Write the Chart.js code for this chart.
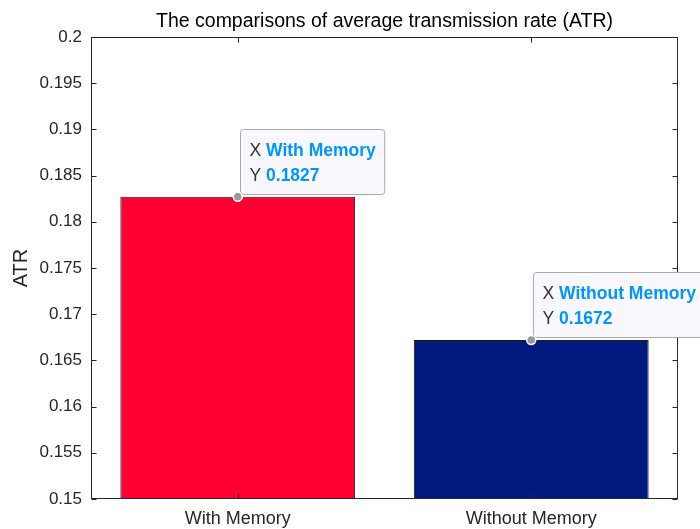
<!DOCTYPE html>
<html>
<head>
<meta charset="utf-8">
<script src="https://cdn.jsdelivr.net/npm/chart.js@4.4.1/dist/chart.umd.min.js"></script>
<style>
  html, body { margin: 0; padding: 0; background: #fff; }
  #wrap { width: 700px; height: 529px; }
</style>
</head>
<body>
<div id="wrap"><canvas id="atrChart" width="700" height="529"></canvas></div>
<script>
// datos del grafico
const categories = ['With Memory', 'Without Memory'];
const atrValues = [0.1827, 0.1672];
const barColors = ['#FF0033', '#001A80'];
const yTickValues = [0.15, 0.155, 0.16, 0.165, 0.17, 0.175, 0.18, 0.185, 0.19, 0.195, 0.2];
const chartTitle = 'The comparisons of average transmission rate (ATR)';

const FONT = '"Liberation Sans", Arial, Helvetica, sans-serif';
const AXIS_COLOR = '#262626';

// caja, marcas de ejes y titulo al estilo MATLAB
const boxPlugin = {
  id: 'boxPlugin',
  afterDraw(chart) {
    const { ctx, chartArea: a, scales } = chart;
    const L = Math.round(a.left) + 0.5, R = Math.round(a.right) - 0.5;
    const T = Math.round(a.top) + 0.5, B = Math.round(a.bottom) - 0.5;
    ctx.save();
    ctx.strokeStyle = AXIS_COLOR;
    ctx.lineWidth = 1;
    ctx.strokeRect(L, T, R - L, B - T);
    ctx.beginPath();
    yTickValues.forEach(v => {
      const y = Math.round(scales.y.getPixelForValue(v)) + 0.5;
      ctx.moveTo(L, y); ctx.lineTo(L + 5, y);
      ctx.moveTo(R, y); ctx.lineTo(R - 5, y);
    });
    categories.forEach((c, i) => {
      const x = Math.round(scales.x.getPixelForValue(i)) + 0.5;
      ctx.moveTo(x, B); ctx.lineTo(x, B - 5);
      ctx.moveTo(x, T); ctx.lineTo(x, T + 5);
    });
    ctx.stroke();
    ctx.fillStyle = '#000';
    ctx.font = '19.5px ' + FONT;
    ctx.textAlign = 'center';
    ctx.textBaseline = 'middle';
    ctx.fillText(chartTitle, (a.left + a.right) / 2, 22);
    ctx.restore();
  }
};

// cuadros de "data tip"
const dataTipPlugin = {
  id: 'dataTipPlugin',
  afterDraw(chart) {
    const { ctx } = chart;
    const meta = chart.getDatasetMeta(0);
    ctx.save();
    meta.data.forEach((bar, i) => {
      const px = bar.x, py = bar.y;
      const bx = Math.round(px) + 2.5, by = Math.round(py) - 67.5;
      ctx.font = 'bold 17.5px ' + FONT;
      const w1 = ctx.measureText(categories[i]).width;
      const w2 = ctx.measureText(atrValues[i].toFixed(4)).width;
      ctx.font = '17.5px ' + FONT;
      const wX = ctx.measureText('X ').width, wY = ctx.measureText('Y ').width;
      const bw = 9 + wX + Math.max(w1, w2) + 9, bh = 65;
      ctx.beginPath();
      ctx.roundRect(bx, by, bw, bh, 3);
      ctx.fillStyle = '#F8F8FD';
      ctx.fill();
      ctx.strokeStyle = '#A8A8A8';
      ctx.lineWidth = 1;
      ctx.stroke();
      ctx.textBaseline = 'middle';
      ctx.textAlign = 'left';
      ctx.fillStyle = '#333';
      ctx.fillText('X', bx + 9, by + 22);
      ctx.fillText('Y', bx + 9, by + 47);
      ctx.font = 'bold 17.5px ' + FONT;
      ctx.fillStyle = '#0096FF';
      ctx.fillText(categories[i], bx + 9 + wX, by + 22);
      ctx.fillText(atrValues[i].toFixed(4), bx + 9 + wY, by + 47);
      // punto
      ctx.beginPath();
      ctx.arc(px, py, 4.5, 0, Math.PI * 2);
      ctx.fillStyle = '#9A9A9A';
      ctx.fill();
      ctx.strokeStyle = '#fff';
      ctx.lineWidth = 1.5;
      ctx.stroke();
    });
    ctx.restore();
  }
};

const ctx = document.getElementById('atrChart').getContext('2d');
new Chart(ctx, {
  type: 'bar',
  data: {
    labels: categories,
    datasets: [{
      data: atrValues,
      backgroundColor: barColors,
      borderColor: '#1a1a1a',
      borderWidth: 1,
      borderSkipped: false,
      categoryPercentage: 0.8,
      barPercentage: 1.0
    }]
  },
  options: {
    responsive: false,
    animation: false,
    devicePixelRatio: 1,
    layout: { padding: { left: 0, right: 22, top: 37, bottom: 0 } },
    plugins: {
      legend: { display: false },
      tooltip: { enabled: false },
      title: { display: false }
    },
    scales: {
      x: {
        grid: { display: false, drawTicks: false },
        border: { display: false },
        ticks: { color: '#262626', font: { family: FONT, size: 18 }, padding: 9, maxRotation: 0 },
        afterFit(scale) { scale.height = 30; }
      },
      y: {
        min: 0.15,
        max: 0.2,
        grid: { display: false, drawTicks: false },
        border: { display: false },
        afterBuildTicks(scale) { scale.ticks = yTickValues.map(v => ({ value: v })); },
        ticks: {
          color: '#262626',
          font: { family: FONT, size: 17 },
          padding: 9,
          callback: v => String(parseFloat(Number(v).toFixed(3)))
        },
        title: {
          display: true,
          text: 'ATR',
          color: '#262626',
          font: { family: FONT, size: 20 },
          padding: { top: 9, bottom: 0 }
        },
        afterFit(scale) { scale.width = 91; }
      }
    }
  },
  plugins: [boxPlugin, dataTipPlugin]
});
</script>
</body>
</html>
